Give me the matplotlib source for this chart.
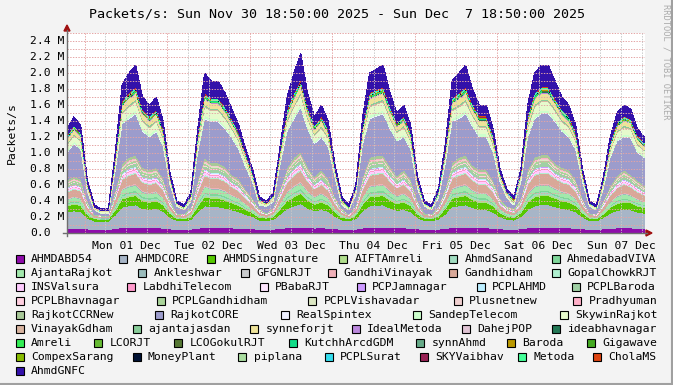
import numpy as np
import matplotlib
matplotlib.use("Agg")
import matplotlib.pyplot as plt
from matplotlib.lines import Line2D
from matplotlib.patches import Rectangle, Polygon

W, H = 673, 385
MONO = "DejaVu Sans Mono"

# one sample every 2 h, Sun 30 Nov 18:50 -> Sun 07 Dec 18:50, values in kpackets/s
hours = np.arange(0, 169, 2)

ahmdabd54 = [60,62,60,50,45,45,45,55,68,70, 72,66,64,66,61,51,46,45,48,60, 70,69,69,66,63,60,56,52,47,46,
             48,57,66,70,74,66,62,64,61,53, 47,45,49,62,70,71,72,66,63,64, 60,51,46,45,48,57,69,70,72,67,
             64,64,60,52,48,47,52,64,70,72, 72,69,66,64,60,52,46,45,51,58, 63,64,63,60,58]
ahmdcore = [200,215,205,135,105,100,100,170,255,270, 280,240,230,240,210,145,110,105,120,200,
            270,260,260,245,225,205,175,150,115,110, 120,180,240,270,295,245,215,230,210,155,
            115,105,130,215,270,275,280,245,220,230, 205,140,110,105,125,180,260,270,280,250,
            230,230,200,150,125,115,150,230,270,280, 280,260,240,230,205,150,110,105,140,190, 220,230,225,200,190]
ahmdsingnature = [75,83,78,43,28,25,25,60,103,110, 115,95,90,95,80,48,30,28,35,75, 110,105,105,98,88,78,63,50,33,30,
                  35,65,95,110,123,98,83,90,80,53, 33,28,40,83,110,113,115,98,85,90, 78,45,30,28,38,65,105,110,115,100,
                  90,90,75,50,38,33,50,90,110,115, 115,105,95,90,78,50,30,28,45,70, 85,90,88,75,70]
aiftamreli = [13,13,13,7,2,2,2,10,17,20, 20,17,17,17,13,7,2,2,4,13, 20,17,17,17,13,13,10,7,4,2,
              4,10,17,20,20,17,13,17,13,7, 4,2,4,13,20,20,20,17,13,17, 13,7,2,2,4,10,17,20,20,17,
              17,17,13,7,4,4,7,17,20,20, 20,17,17,17,13,7,2,2,7,10, 13,17,13,13,10]
ahmdsanand = [17,17,17,9,2,2,2,13,22,26, 26,22,22,22,17,9,2,2,6,17, 26,22,22,22,17,17,13,9,6,2,
              6,13,22,26,26,22,17,22,17,9, 6,2,6,17,26,26,26,22,17,22, 17,9,2,2,6,13,22,26,26,22,
              22,22,17,9,6,6,9,22,26,26, 26,22,22,22,17,9,2,2,9,13, 17,22,17,17,13]
ahmedabadviva = [12,12,12,6,2,2,2,9,16,19, 19,16,16,16,12,6,2,2,4,12, 19,16,16,16,12,12,9,6,4,2,
                 4,9,16,19,19,16,12,16,12,6, 4,2,4,12,19,19,19,16,12,16, 12,6,2,2,4,9,16,19,19,16,
                 16,16,12,6,4,4,6,16,19,19, 19,16,16,16,12,6,2,2,6,9, 12,16,12,12,9]
ajantarajkot = [41,46,43,22,13,11,11,32,58,62, 65,53,50,53,44,25,14,13,17,41, 62,59,59,55,49,43,34,26,16,14,
                17,35,53,62,70,55,46,50,44,28, 16,13,20,46,62,64,65,55,47,50, 43,23,14,13,19,35,59,62,65,56,
                50,50,41,26,19,16,26,50,62,65, 65,59,53,50,43,26,14,13,23,38, 47,50,49,41,38]
ankleshwar = [5,5,5,3,1,1,1,4,7,8, 8,7,7,7,5,3,1,1,2,5, 8,7,7,7,5,5,4,3,2,1,
              2,4,7,8,8,7,5,7,5,3, 2,1,2,5,8,8,8,7,5,7, 5,3,1,1,2,4,7,8,8,7,
              7,7,5,3,2,2,3,7,8,8, 8,7,7,7,5,3,1,1,3,4, 5,7,5,5,4]
gfgnlrjt = [5,5,5,2,0,0,0,4,6,7, 7,6,6,6,5,2,0,0,2,5, 7,6,6,6,5,5,4,2,2,0,
            2,4,6,7,7,6,5,6,5,2, 2,0,2,5,7,7,7,6,5,6, 5,2,0,0,2,4,6,7,7,6,
            6,6,5,2,2,2,2,6,7,7, 7,6,6,6,5,2,0,0,2,4, 5,6,5,5,4]
gandhivinayak = [5,5,5,3,1,1,1,4,7,8, 8,7,7,7,5,3,1,1,2,5, 8,7,7,7,5,5,4,3,2,1,
                 2,4,7,8,8,7,5,7,5,3, 2,1,2,5,8,8,8,7,5,7, 5,3,1,1,2,4,7,8,8,7,
                 7,7,5,3,2,2,3,7,8,8, 8,7,7,7,5,3,1,1,3,4, 5,7,5,5,4]
gandhidham = [78,87,81,39,21,18,18,60,111,120, 126,102,96,102,84,45,24,21,30,78, 120,114,114,105,93,81,63,48,27,24,
              30,66,102,120,135,105,87,96,84,51, 27,21,36,87,120,123,126,105,90,96, 81,42,24,21,33,66,114,120,126,108,
              96,96,78,48,33,27,48,96,120,126, 126,114,102,96,81,48,24,21,42,72, 90,96,93,78,72]
gopalchowkrjt = [11,11,11,6,1,1,1,8,13,16, 16,13,13,13,11,6,1,1,4,11, 16,13,13,13,11,11,8,6,4,1,
                 4,8,13,16,16,13,11,13,11,6, 4,1,4,11,16,16,16,13,11,13, 11,6,1,1,4,8,13,16,16,13,
                 13,13,11,6,4,4,6,13,16,16, 16,13,13,13,11,6,1,1,6,8, 11,13,11,11,8]
insvalsura = [20,20,20,11,2,2,2,15,25,30, 30,25,25,25,20,11,2,2,7,20, 30,25,25,25,20,20,15,11,7,2,
              7,15,25,30,30,25,20,25,20,11, 7,2,7,20,30,30,30,25,20,25, 20,11,2,2,7,15,25,30,30,25,
              25,25,20,11,7,7,11,25,30,30, 30,25,25,25,20,11,2,2,11,15, 20,25,20,20,15]
labdhitelecom = [8,8,8,4,1,1,1,6,10,12, 12,10,10,10,8,4,1,1,3,8, 12,10,10,10,8,8,6,4,3,1,
                 3,6,10,12,12,10,8,10,8,4, 3,1,3,8,12,12,12,10,8,10, 8,4,1,1,3,6,10,12,12,10,
                 10,10,8,4,3,3,4,10,12,12, 12,10,10,10,8,4,1,1,4,6, 8,10,8,8,6]
pbabarjt = [11,11,11,6,1,1,1,8,13,16, 16,13,13,13,11,6,1,1,4,11, 16,13,13,13,11,11,8,6,4,1,
            4,8,13,16,16,13,11,13,11,6, 4,1,4,11,16,16,16,13,11,13, 11,6,1,1,4,8,13,16,16,13,
            13,13,11,6,4,4,6,13,16,16, 16,13,13,13,11,6,1,1,6,8, 11,13,11,11,8]
pcpjamnagar = [4,4,4,2,0,0,0,3,5,6, 6,5,5,5,4,2,0,0,1,4, 6,5,5,5,4,4,3,2,1,0,
               1,3,5,6,6,5,4,5,4,2, 1,0,1,4,6,6,6,5,4,5, 4,2,0,0,1,3,5,6,6,5,
               5,5,4,2,1,1,2,5,6,6, 6,5,5,5,4,2,0,0,2,3, 4,5,4,4,3]
pcplahmd = [5,5,5,3,0,0,0,4,7,8, 8,7,7,7,5,3,0,0,2,5, 8,7,7,7,5,5,4,3,2,0,
            2,4,7,8,8,7,5,7,5,3, 2,0,2,5,8,8,8,7,5,7, 5,3,0,0,2,4,7,8,8,7,
            7,7,5,3,2,2,3,7,8,8, 8,7,7,7,5,3,0,0,3,4, 5,7,5,5,4]
pcplbaroda = [26,29,27,13,7,6,6,20,37,40, 42,34,32,34,28,15,8,7,10,26, 40,38,38,35,31,27,21,16,9,8,
              10,22,34,40,45,35,29,32,28,17, 9,7,12,29,40,41,42,35,30,32, 27,14,8,7,11,22,38,40,42,36,
              32,32,26,16,11,9,16,32,40,42, 42,38,34,32,27,16,8,7,14,24, 30,32,31,26,24]
pcplbhavnagar = [7,7,7,4,1,1,1,5,8,10, 10,8,8,8,7,4,1,1,2,7, 10,8,8,8,7,7,5,4,2,1,
                 2,5,8,10,10,8,7,8,7,4, 2,1,2,7,10,10,10,8,7,8, 7,4,1,1,2,5,8,10,10,8,
                 8,8,7,4,2,2,4,8,10,10, 10,8,8,8,7,4,1,1,4,5, 7,8,7,7,5]
pcplgandhidham = [16,16,16,8,1,1,1,12,20,24, 24,20,20,20,16,8,1,1,5,16, 24,20,20,20,16,16,12,8,5,1,
                  5,12,20,24,24,20,16,20,16,8, 5,1,5,16,24,24,24,20,16,20, 16,8,1,1,5,12,20,24,24,20,
                  20,20,16,8,5,5,8,20,24,24, 24,20,20,20,16,8,1,1,8,12, 16,20,16,16,12]
pcplvishavadar = [5,5,5,3,0,0,0,4,7,8, 8,7,7,7,5,3,0,0,2,5, 8,7,7,7,5,5,4,3,2,0,
                  2,4,7,8,8,7,5,7,5,3, 2,0,2,5,8,8,8,7,5,7, 5,3,0,0,2,4,7,8,8,7,
                  7,7,5,3,2,2,3,7,8,8, 8,7,7,7,5,3,0,0,3,4, 5,7,5,5,4]
plusnetnew = [8,8,8,4,1,1,1,6,10,12, 12,10,10,10,8,4,1,1,3,8, 12,10,10,10,8,8,6,4,3,1,
              3,6,10,12,12,10,8,10,8,4, 3,1,3,8,12,12,12,10,8,10, 8,4,1,1,3,6,10,12,12,10,
              10,10,8,4,3,3,4,10,12,12, 12,10,10,10,8,4,1,1,4,6, 8,10,8,8,6]
pradhyuman = [7,7,7,4,1,1,1,5,8,10, 10,8,8,8,7,4,1,1,2,7, 10,8,8,8,7,7,5,4,2,1,
              2,5,8,10,10,8,7,8,7,4, 2,1,2,7,10,10,10,8,7,8, 7,4,1,1,2,5,8,10,10,8,
              8,8,7,4,2,2,4,8,10,10, 10,8,8,8,7,4,1,1,4,5, 7,8,7,7,5]
rajkotccrnew = [24,24,24,13,2,2,2,18,30,36, 36,30,30,30,24,13,2,2,8,24, 36,30,30,30,24,24,18,13,8,2,
                8,18,30,36,36,30,24,30,24,13, 8,2,8,24,36,36,36,30,24,30, 24,13,2,2,8,18,30,36,36,30,
                30,30,24,13,8,8,13,30,36,36, 36,30,30,30,24,13,2,2,13,18, 24,30,24,24,18]
rajkotcore = [342,413,369,108,52,22,22,246,502,481, 515,451,407,451,391,168,83,52,70,342,
              481,519,519,468,457,369,273,198,39,83, 70,300,451,481,556,468,413,407,391,228,
              39,52,130,413,481,498,515,468,435,407, 369,138,83,52,100,300,519,481,515,485,
              407,407,342,198,100,39,198,407,481,515, 515,519,451,407,369,198,83,52,138,354, 435,407,457,342,354]
realspintex = [7,7,7,4,0,0,0,5,8,10, 10,8,8,8,7,4,0,0,2,7, 10,8,8,8,7,7,5,4,2,0,
               2,5,8,10,10,8,7,8,7,4, 2,0,2,7,10,10,10,8,7,8, 7,4,0,0,2,5,8,10,10,8,
               8,8,7,4,2,2,4,8,10,10, 10,8,8,8,7,4,0,0,4,5, 7,8,7,7,5]
sandeptelecom = [24,24,24,13,2,2,2,18,30,36, 36,30,30,30,24,13,2,2,8,24, 36,30,30,30,24,24,18,13,8,2,
                 8,18,30,36,36,30,24,30,24,13, 8,2,8,24,36,36,36,30,24,30, 24,13,2,2,8,18,30,36,36,30,
                 30,30,24,13,8,8,13,30,36,36, 36,30,30,30,24,13,2,2,13,18, 24,30,24,24,18]
skywinrajkot = [65,73,68,33,18,15,15,50,93,100, 105,85,80,85,70,38,20,18,25,65, 100,95,95,88,78,68,53,40,23,20,
                25,55,85,100,113,88,73,80,70,43, 23,18,30,73,100,103,105,88,75,80, 68,35,20,18,28,55,95,100,105,90,
                80,80,65,40,28,23,40,80,100,105, 105,95,85,80,68,40,20,18,35,60, 75,80,78,65,60]
vinayakgdham = [9,9,9,5,1,1,1,7,12,14, 14,12,12,12,9,5,1,1,3,9, 14,12,12,12,9,9,7,5,3,1,
                3,7,12,14,14,12,9,12,9,5, 3,1,3,9,14,14,14,12,9,12, 9,5,1,1,3,7,12,14,14,12,
                12,12,9,5,3,3,5,12,14,14, 14,12,12,12,9,5,1,1,5,7, 9,12,9,9,7]
ajantajasdan = [12,12,12,6,1,1,1,9,15,18, 18,15,15,15,12,6,1,1,4,12, 18,15,15,15,12,12,9,6,4,1,
                4,9,15,18,18,15,12,15,12,6, 4,1,4,12,18,18,18,15,12,15, 12,6,1,1,4,9,15,18,18,15,
                15,15,12,6,4,4,6,15,18,18, 18,15,15,15,12,6,1,1,6,9, 12,15,12,12,9]
synneforjt = [46,51,47,23,12,11,11,35,65,70, 74,60,56,60,49,26,14,12,18,46, 70,67,67,61,54,47,37,28,16,14,
              18,39,60,70,79,61,51,56,49,30, 16,12,21,51,70,72,74,61,53,56, 47,25,14,12,19,39,67,70,74,63,
              56,56,46,28,19,16,28,56,70,74, 74,67,60,56,47,28,14,12,25,42, 53,56,54,46,42]
idealmetoda = [5,5,5,2,0,0,0,4,6,7, 7,6,6,6,5,2,0,0,2,5, 7,6,6,6,5,5,4,2,2,0,
               2,4,6,7,7,6,5,6,5,2, 2,0,2,5,7,7,7,6,5,6, 5,2,0,0,2,4,6,7,7,6,
               6,6,5,2,2,2,2,6,7,7, 7,6,6,6,5,2,0,0,2,4, 5,6,5,5,4]
dahejpop = [3,3,3,2,0,0,0,3,4,5, 5,4,4,4,3,2,0,0,1,3, 5,4,4,4,3,3,3,2,1,0,
            1,3,4,5,5,4,3,4,3,2, 1,0,1,3,5,5,5,4,3,4, 3,2,0,0,1,3,4,5,5,4,
            4,4,3,2,1,1,2,4,5,5, 5,4,4,4,3,2,0,0,2,3, 3,4,3,3,3]
ideabhavnagar = [2,2,2,1,0,0,0,2,2,3, 3,2,2,2,2,1,0,0,1,2, 3,2,2,2,2,2,2,1,1,0,
                 1,2,2,3,3,2,2,2,2,1, 1,0,1,2,3,3,3,2,2,2, 2,1,0,0,1,2,2,3,3,2,
                 2,2,2,1,1,1,1,2,3,3, 3,2,2,2,2,1,0,0,1,2, 2,2,2,2,2]
amreli = [5,5,5,2,1,1,1,4,6,7, 7,6,6,6,5,2,1,1,2,5, 7,6,6,6,5,5,4,2,2,1,
          2,4,6,7,7,6,5,6,5,2, 2,1,2,5,7,7,7,6,5,6, 5,2,1,1,2,4,6,7,7,6,
          6,6,5,2,2,2,2,6,7,7, 7,6,6,6,5,2,1,1,2,4, 5,6,5,5,4]
lcorjt = [2,2,2,1,0,0,0,2,2,3, 3,2,2,2,2,1,0,0,1,2, 3,2,2,2,2,2,2,1,1,0,
          1,2,2,3,3,2,2,2,2,1, 1,0,1,2,3,3,3,2,2,2, 2,1,0,0,1,2,2,3,3,2,
          2,2,2,1,1,1,1,2,3,3, 3,2,2,2,2,1,0,0,1,2, 2,2,2,2,2]
lcogokulrjt = [1,1,1,1,0,0,0,1,2,2, 2,2,2,2,1,1,0,0,0,1, 2,2,2,2,1,1,1,1,0,0,
               0,1,2,2,2,2,1,2,1,1, 0,0,0,1,2,2,2,2,1,2, 1,1,0,0,0,1,2,2,2,2,
               2,2,1,1,0,0,1,2,2,2, 2,2,2,2,1,1,0,0,1,1, 1,2,1,1,1]
kutchharcdgdm = [5,5,5,2,0,0,0,4,6,7, 7,6,6,6,5,2,0,0,2,5, 7,6,6,6,5,5,4,2,2,0,
                 2,4,6,7,7,6,5,6,5,2, 2,0,2,5,7,7,7,6,5,6, 5,2,0,0,2,4,6,7,7,6,
                 6,6,5,2,2,2,2,6,7,7, 7,6,6,6,5,2,0,0,2,4, 5,6,5,5,4]
synnahmd = [2,2,2,1,0,0,0,2,2,3, 3,2,2,2,2,1,0,0,1,2, 3,2,2,2,2,2,2,1,1,0,
            1,2,2,3,3,2,2,2,2,1, 1,0,1,2,3,3,3,2,2,2, 2,1,0,0,1,2,2,3,3,2,
            2,2,2,1,1,1,1,2,3,3, 3,2,2,2,2,1,0,0,1,2, 2,2,2,2,2]
baroda = [2,2,2,1,0,0,0,2,2,3, 3,2,2,2,2,1,0,0,1,2, 3,2,2,2,2,2,2,1,1,0,
          1,2,2,3,3,2,2,2,2,1, 1,0,1,2,3,3,3,2,2,2, 2,1,0,0,1,2,2,3,3,2,
          2,2,2,1,1,1,1,2,3,3, 3,2,2,2,2,1,0,0,1,2, 2,2,2,2,2]
gigawave = [3,3,3,1,0,0,0,2,3,4, 4,3,3,3,3,1,0,0,1,3, 4,3,3,3,3,3,2,1,1,0,
            1,2,3,4,4,3,3,3,3,1, 1,0,1,3,4,4,4,3,3,3, 3,1,0,0,1,2,3,4,4,3,
            3,3,3,1,1,1,1,3,4,4, 4,3,3,3,3,1,0,0,1,2, 3,3,3,3,2]
compexsarang = [1,1,1,1,0,0,0,1,2,2, 2,2,2,2,1,1,0,0,0,1, 2,2,2,2,1,1,1,1,0,0,
                0,1,2,2,2,2,1,2,1,1, 0,0,0,1,2,2,2,2,1,2, 1,1,0,0,0,1,2,2,2,2,
                2,2,1,1,0,0,1,2,2,2, 2,2,2,2,1,1,0,0,1,1, 1,2,1,1,1]
moneyplant = [1,1,1,1,0,0,0,1,2,2, 2,2,2,2,1,1,0,0,0,1, 2,2,2,2,1,1,1,1,0,0,
              0,1,2,2,2,2,1,2,1,1, 0,0,0,1,2,2,2,2,1,2, 1,1,0,0,0,1,2,2,2,2,
              2,2,1,1,0,0,1,2,2,2, 2,2,2,2,1,1,0,0,1,1, 1,2,1,1,1]
piplana = [3,3,3,1,0,0,0,2,3,4, 4,3,3,3,3,1,0,0,1,3, 4,3,3,3,3,3,2,1,1,0,
           1,2,3,4,4,3,3,3,3,1, 1,0,1,3,4,4,4,3,3,3, 3,1,0,0,1,2,3,4,4,3,
           3,3,3,1,1,1,1,3,4,4, 4,3,3,3,3,1,0,0,1,2, 3,3,3,3,2]
pcplsurat = [5,5,5,2,1,1,1,4,6,7, 7,6,6,6,5,2,1,1,2,5, 7,6,6,6,5,5,4,2,2,1,
             2,4,6,7,7,6,5,6,5,2, 2,1,2,5,7,7,7,6,5,6, 5,2,1,1,2,4,6,7,7,6,
             6,6,5,2,2,2,2,6,7,7, 7,6,6,6,5,2,1,1,2,4, 5,6,5,5,4]
skyvaibhav = [2,2,2,1,0,0,0,2,2,3, 3,2,2,2,2,1,0,0,1,2, 3,2,2,2,2,2,2,1,1,0,
              1,2,2,3,3,2,2,2,2,1, 1,0,1,2,3,3,3,2,2,2, 2,1,0,0,1,2,2,3,3,2,
              2,2,2,1,1,1,1,2,3,3, 3,2,2,2,2,1,0,0,1,2, 2,2,2,2,2]
metoda = [5,5,5,2,0,0,0,4,6,7, 7,6,6,6,5,2,0,0,2,5, 7,6,6,6,5,5,4,2,2,0,
          2,4,6,7,7,6,5,6,5,2, 2,0,2,5,7,7,7,6,5,6, 5,2,0,0,2,4,6,7,7,6,
          6,6,5,2,2,2,2,6,7,7, 7,6,6,6,5,2,0,0,2,4, 5,6,5,5,4]
cholams = [5,5,5,3,1,1,1,4,7,8, 8,7,7,7,5,3,1,1,2,5, 8,7,7,7,5,5,4,3,2,1,
           2,4,7,8,8,7,5,7,5,3, 2,1,2,5,8,8,8,7,5,7, 5,3,1,1,2,4,7,8,8,7,
           7,7,5,3,2,2,3,7,8,8, 8,7,7,7,5,3,1,1,3,4, 5,7,5,5,4]
ahmdgnfc = [80,105,85,34,24,22,22,50,200,245, 275,155,135,155,95,38,25,24,28,80,
            245,215,215,170,125,85,55,40,27,25, 28,60,155,245,330,170,105,135,95,42,
            27,24,32,105,245,260,275,170,115,135, 85,36,25,24,30,60,215,245,275,185,
            135,135,80,40,30,27,40,135,245,275, 275,215,155,135,85,40,25,24,36,70, 115,135,125,80,70]

# stacking order = legend order (first one at the bottom)
layers = [
    ("AHMDABD54", "#8E0CAA", ahmdabd54), ("AHMDCORE", "#A7B5C7", ahmdcore),
    ("AHMDSingnature", "#55C800", ahmdsingnature), ("AIFTAmreli", "#B0DE8C", aiftamreli),
    ("AhmdSanand", "#A0DCC0", ahmdsanand), ("AhmedabadVIVA", "#7FD69A", ahmedabadviva),
    ("AjantaRajkot", "#A2E8AC", ajantarajkot), ("Ankleshwar", "#99BBBB", ankleshwar),
    ("GFGNLRJT", "#C8CACC", gfgnlrjt), ("GandhiVinayak", "#F0B0B8", gandhivinayak),
    ("Gandhidham", "#D8A898", gandhidham), ("GopalChowkRJT", "#B0F0D0", gopalchowkrjt),
    ("INSValsura", "#FFCCFF", insvalsura), ("LabdhiTelecom", "#FF99CC", labdhitelecom),
    ("PBabaRJT", "#FFE6FF", pbabarjt), ("PCPJamnagar", "#CC99FF", pcpjamnagar),
    ("PCPLAHMD", "#BBEEFF", pcplahmd), ("PCPLBaroda", "#9FD0A4", pcplbaroda),
    ("PCPLBhavnagar", "#FFD0E0", pcplbhavnagar), ("PCPLGandhidham", "#AAD49A", pcplgandhidham),
    ("PCPLVishavadar", "#DDE8C4", pcplvishavadar), ("Plusnetnew", "#F0D0D0", plusnetnew),
    ("Pradhyuman", "#FFB0C8", pradhyuman), ("RajkotCCRNew", "#A8C898", rajkotccrnew),
    ("RajkotCORE", "#9C9CCC", rajkotcore), ("RealSpintex", "#EEF0FF", realspintex),
    ("SandepTelecom", "#CCFFCC", sandeptelecom), ("SkywinRajkot", "#E6FACC", skywinrajkot),
    ("VinayakGdham", "#D8B4A0", vinayakgdham), ("ajantajasdan", "#88CC99", ajantajasdan),
    ("synneforjt", "#EEE39A", synneforjt), ("IdealMetoda", "#BB88DD", idealmetoda),
    ("DahejPOP", "#E0C4D4", dahejpop), ("ideabhavnagar", "#227755", ideabhavnagar),
    ("Amreli", "#33EE55", amreli), ("LCORJT", "#66BB33", lcorjt),
    ("LCOGokulRJT", "#557733", lcogokulrjt), ("KutchhArcdGDM", "#11DD88", kutchharcdgdm),
    ("synnAhmd", "#66AA88", synnahmd), ("Baroda", "#BB9900", baroda),
    ("Gigawave", "#44AA22", gigawave), ("CompexSarang", "#88BB00", compexsarang),
    ("MoneyPlant", "#001133", moneyplant), ("piplana", "#AADDA0", piplana),
    ("PCPLSurat", "#33DDEE", pcplsurat), ("SKYVaibhav", "#992255", skyvaibhav),
    ("Metoda", "#44FF99", metoda), ("CholaMS", "#DD4411", cholams),
    ("AhmdGNFC", "#3311AA", ahmdgnfc),
]

day_labels = ["Mon 01 Dec", "Tue 02 Dec", "Wed 03 Dec", "Thu 04 Dec",
              "Fri 05 Dec", "Sat 06 Dec", "Sun 07 Dec"]
y_ticks = [0, 200, 400, 600, 800, 1000, 1200, 1400, 1600, 1800, 2000, 2200, 2400]
y_labels = ["0.0", "0.2 M", "0.4 M", "0.6 M", "0.8 M", "1.0 M", "1.2 M",
            "1.4 M", "1.6 M", "1.8 M", "2.0 M", "2.2 M", "2.4 M"]

# legend rows: (name, swatch left in px)
legend_rows = [
    [("AHMDABD54", 15.7), ("AHMDCORE", 119.3), ("AHMDSingnature", 207.3), ("AIFTAmreli", 339.3), ("AhmdSanand", 449.3), ("AhmedabadVIVA", 551.7)],
    [("AjantaRajkot", 15.7), ("Ankleshwar", 138.3), ("GFGNLRJT", 240.7), ("GandhiVinayak", 328), ("Gandhidham", 449.3), ("GopalChowkRJT", 551.7)],
    [("INSValsura", 15.7), ("LabdhiTelecom", 127.3), ("PBabaRJT", 260), ("PCPJamnagar", 356.7), ("PCPLAHMD", 476.7), ("PCPLBaroda", 571.7)],
    [("PCPLBhavnagar", 15.7), ("PCPLGandhidham", 156.7), ("PCPLVishavadar", 308.3), ("Plusnetnew", 454), ("Pradhyuman", 573.3)],
    [("RajkotCCRNew", 15.7), ("RajkotCORE", 155), ("RealSpintex", 281), ("SandepTelecom", 413.3), ("SkywinRajkot", 560)],
    [("VinayakGdham", 15.7), ("ajantajasdan", 133.3), ("synneforjt", 250), ("IdealMetoda", 352), ("DahejPOP", 461.7), ("ideabhavnagar", 551.7)],
    [("Amreli", 15.7), ("LCORJT", 94.3), ("LCOGokulRJT", 174), ("KutchhArcdGDM", 288.7), ("synnAhmd", 416), ("Baroda", 507.3), ("Gigawave", 586.7)],
    [("CompexSarang", 15.7), ("MoneyPlant", 132.7), ("piplana", 238.3), ("PCPLSurat", 325), ("SKYVaibhav", 420), ("Metoda", 518.3), ("CholaMS", 593.3)],
    [("AhmdGNFC", 15.7)],
]


def fx(x):
    return x / W


def fy(y):
    return 1 - y / H


fig = plt.figure(figsize=(W / 100, H / 100), dpi=100)
fig.patch.set_facecolor("#F3F3F3")

x0, x1, y0, y1 = 67, 644.5, 233, 33
ax = fig.add_axes([fx(x0), fy(y0), fx(x1) - fx(x0), fy(y1) - fy(y0)])
ax.set_facecolor("white")
ax.stackplot(hours, *[l[2] for l in layers], colors=[l[1] for l in layers],
             linewidth=0, antialiased=False)
ax.set_xlim(0, 168)
ax.set_ylim(0, 2500)
for s in ax.spines.values():
    s.set_visible(False)
ax.set_xticks([])
ax.set_yticks([])

grid_ls = (0, (1.4, 1.4))
for v in range(100, 2600, 100):
    ax.axhline(v, color="#E4A4A4", lw=0.7, ls=grid_ls, zorder=5)

first_midnight = 5 + 10 / 60
for d in range(7):
    m = first_midnight + 24 * d
    ax.axvline(m, color="#E4A4A4", lw=0.7, ls=grid_ls, zorder=5)
    for k in (6, 12, 18):
        ax.axvline(m + k, color="#C8C8C8", lw=0.7, ls=grid_ls, zorder=5)
    ax.text(m + 12, -0.04, day_labels[d], transform=ax.get_xaxis_transform(),
            ha="center", va="top", fontsize=8.2, family=MONO)

for v, lab in zip(y_ticks, y_labels):
    ax.text(-(x0 - 30) / (x1 - x0), v, lab, transform=ax.get_yaxis_transform(),
            ha="left", va="center", fontsize=8.2, family=MONO)

# axes lines and arrows
axis_col = "#6E6E6E"
fig.add_artist(Line2D([fx(x0), fx(x0)], [fy(236), fy(30)], color=axis_col, lw=1))
fig.add_artist(Line2D([fx(63), fx(647)], [fy(y0), fy(y0)], color=axis_col, lw=1))
fig.add_artist(Polygon([(fx(x0 - 3), fy(31)), (fx(x0 + 3), fy(31)), (fx(x0), fy(25))],
                       closed=True, color="#A01010", transform=fig.transFigure))
fig.add_artist(Polygon([(fx(646), fy(y0 - 3)), (fx(646), fy(y0 + 3)), (fx(652), fy(y0))],
                       closed=True, color="#A01010", transform=fig.transFigure))

fig.text(fx(337), fy(14), "Packets/s: Sun Nov 30 18:50:00 2025 - Sun Dec  7 18:50:00 2025",
         ha="center", va="center", fontsize=9.6, family=MONO)
fig.text(fx(12), fy(133), "Packets/s", rotation=90, ha="center", va="center",
         fontsize=8.2, family=MONO)
fig.text(fx(666), fy(62), "RRDTOOL / TOBI OETIKER", rotation=270, ha="center", va="center",
         fontsize=6.3, family=MONO, color="#ABABAB")

colors = {name: col for name, col, _ in layers}
for r, row in enumerate(legend_rows):
    yc = 259 + 14 * r
    for name, xs in row:
        fig.add_artist(Rectangle((fx(xs), fy(yc + 4)), 8 / W, 8 / H, facecolor=colors[name],
                                 edgecolor="black", lw=0.8, transform=fig.transFigure))
        fig.text(fx(xs + 15.3), fy(yc), name, ha="left", va="center",
                 fontsize=8.2, family=MONO)

# shaded frame
fig.add_artist(Line2D([fx(671.5), fx(671.5)], [0, 1], color="#A0A0A0", lw=1.5))
fig.add_artist(Line2D([0, 1], [fy(383.5), fy(383.5)], color="#A0A0A0", lw=1.5))

fig.savefig("out.png", dpi=100, facecolor=fig.get_facecolor())
